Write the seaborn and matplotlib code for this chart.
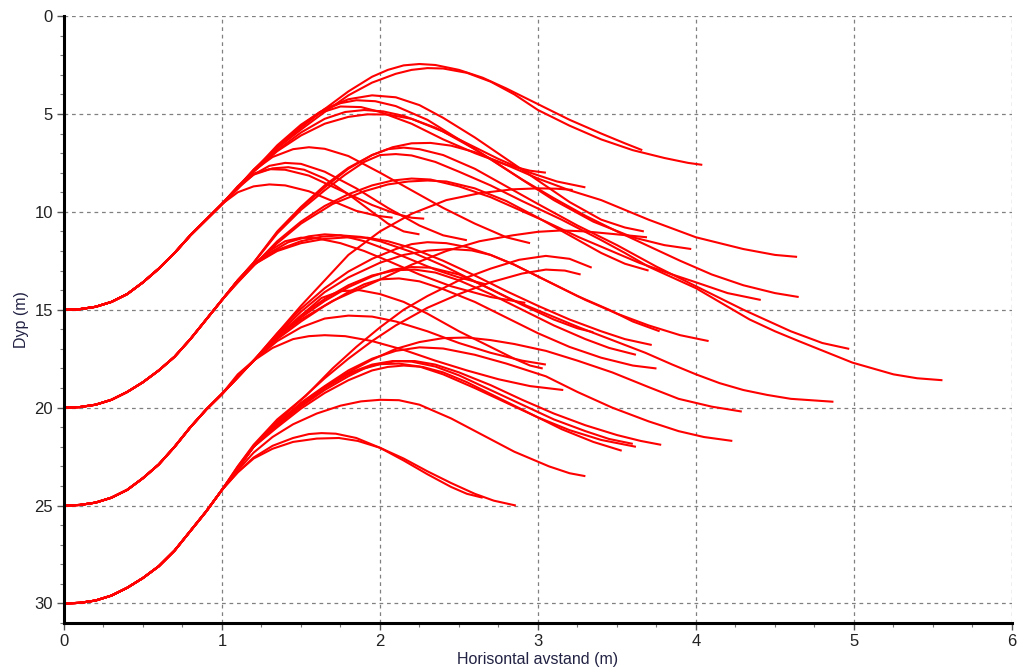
import pandas as pd
import seaborn as sns
import matplotlib
matplotlib.use('Agg')
import matplotlib.pyplot as plt
from matplotlib.ticker import MultipleLocator

# utslippsdyp (m) for hver kurvefamilie
start_depths = [15, 20, 25, 30]

# felles stigning fra x=0 til x=1 for hver familie (avlest)
rise_x = [0, 0.1, 0.2, 0.3, 0.4, 0.5, 0.6, 0.7, 0.8, 0.9, 1.0]
rise15 = [15, 14.97, 14.85, 14.6, 14.2, 13.6, 12.9, 12.1, 11.2, 10.4, 9.6]
rise20 = [20, 19.97, 19.85, 19.6, 19.2, 18.7, 18.1, 17.4, 16.5, 15.5, 14.5]
rise25 = [25, 24.97, 24.85, 24.6, 24.2, 23.6, 22.9, 22.0, 21.0, 20.1, 19.3]
rise30 = [30, 29.97, 29.85, 29.6, 29.2, 28.7, 28.1, 27.3, 26.3, 25.3, 24.2]

# videre forløp for hver kurve (x, dyp)
branches15 = [
    [(1.1, 8.75), (1.2, 7.85), (1.35, 6.7), (1.5, 5.7), (1.65, 4.75), (1.8, 3.85), (1.95, 3.1), (2.05, 2.75), (2.15, 2.52), (2.25, 2.45), (2.35, 2.5), (2.5, 2.75), (2.65, 3.15), (2.8, 3.7), (3.0, 4.5), (3.2, 5.3), (3.4, 6.0), (3.55, 6.5), (3.66, 6.85)],
    [(1.1, 8.75), (1.2, 7.85), (1.35, 6.75), (1.5, 5.8), (1.65, 4.9), (1.8, 4.05), (1.95, 3.4), (2.1, 2.95), (2.2, 2.75), (2.3, 2.66), (2.4, 2.68), (2.55, 2.9), (2.7, 3.35), (2.85, 4.0), (3.0, 4.8), (3.2, 5.6), (3.4, 6.3), (3.6, 6.85), (3.8, 7.25), (3.95, 7.5), (4.04, 7.6)],
    [(1.1, 8.8), (1.2, 7.9), (1.35, 6.6), (1.5, 5.55), (1.65, 4.75), (1.8, 4.25), (1.95, 4.05), (2.1, 4.15), (2.25, 4.55), (2.4, 5.2), (2.6, 6.2), (2.8, 7.3), (3.0, 8.4), (3.2, 9.5), (3.4, 10.4), (3.55, 10.8), (3.67, 11.0)],
    [(1.1, 8.8), (1.2, 7.9), (1.35, 6.7), (1.5, 5.6), (1.62, 4.9), (1.75, 4.45), (1.85, 4.3), (1.97, 4.35), (2.1, 4.6), (2.3, 5.3), (2.5, 6.3), (2.7, 7.3), (2.9, 8.35), (3.1, 9.3), (3.3, 10.2), (3.5, 11.0), (3.7, 11.75), (3.9, 12.5), (4.1, 13.2), (4.3, 13.75), (4.5, 14.15), (4.65, 14.35)],
    [(1.1, 8.8), (1.2, 7.9), (1.35, 6.7), (1.5, 5.6), (1.62, 4.95), (1.75, 4.62), (1.88, 4.65), (2.0, 4.9), (2.2, 5.5), (2.4, 6.3), (2.6, 7.0), (2.8, 7.6), (2.95, 7.9), (3.05, 8.0)],
    [(1.1, 8.8), (1.2, 7.95), (1.35, 6.85), (1.5, 5.95), (1.65, 5.25), (1.78, 4.9), (1.9, 4.8), (2.02, 4.87), (2.15, 5.1), (2.35, 5.7), (2.55, 6.5), (2.75, 7.3), (2.95, 8.0), (3.12, 8.45), (3.3, 8.75)],
    [(1.1, 8.8), (1.2, 7.95), (1.35, 6.9), (1.5, 6.1), (1.65, 5.5), (1.8, 5.15), (1.92, 5.02), (2.05, 5.03), (2.2, 5.25), (2.4, 5.9), (2.6, 6.8), (2.85, 8.1), (3.1, 9.4), (3.35, 10.5), (3.6, 11.3), (3.8, 11.7), (3.97, 11.9)],
    [(1.1, 8.7), (1.2, 7.9), (1.32, 7.2), (1.45, 6.8), (1.55, 6.7), (1.65, 6.78), (1.8, 7.15), (2.0, 8.0), (2.2, 8.9), (2.4, 9.8), (2.6, 10.6), (2.8, 11.3), (2.95, 11.6)],
    [(1.1, 8.8), (1.2, 8.1), (1.3, 7.65), (1.4, 7.5), (1.5, 7.55), (1.65, 7.95), (1.85, 8.8), (2.05, 9.8), (2.25, 10.7), (2.4, 11.2), (2.55, 11.45)],
    [(1.1, 8.7), (1.2, 8.05), (1.3, 7.82), (1.4, 7.85), (1.55, 8.15), (1.75, 8.9), (1.95, 9.65), (2.1, 10.1), (2.2, 10.3), (2.28, 10.35)],
    [(1.1, 9.0), (1.2, 8.7), (1.3, 8.6), (1.4, 8.65), (1.55, 8.95), (1.7, 9.45), (1.85, 9.95), (1.98, 10.2), (2.08, 10.3)],
    [(1.1, 8.75), (1.2, 8.1), (1.32, 7.78), (1.42, 7.72), (1.52, 7.85), (1.65, 8.3), (1.8, 9.1), (1.95, 10.0), (2.05, 10.6), (2.15, 11.0), (2.25, 11.15)],
]

branches20 = [
    [(1.1, 13.5), (1.2, 12.6), (1.35, 11.0), (1.5, 9.75), (1.65, 8.65), (1.8, 7.75), (1.95, 7.1), (2.08, 6.7), (2.2, 6.5), (2.32, 6.48), (2.45, 6.62), (2.6, 6.95), (2.8, 7.6), (3.0, 8.3), (3.2, 8.9), (3.4, 9.4), (3.7, 10.4), (4.0, 11.3), (4.3, 11.9), (4.5, 12.2), (4.64, 12.3)],
    [(1.1, 13.5), (1.2, 12.6), (1.35, 11.05), (1.5, 9.8), (1.65, 8.75), (1.8, 7.8), (1.95, 7.1), (2.05, 6.8), (2.15, 6.72), (2.25, 6.8), (2.4, 7.1), (2.6, 7.8), (2.8, 8.7), (3.0, 9.6), (3.25, 10.7), (3.5, 11.7), (3.75, 12.8), (4.0, 13.8), (4.3, 15.0), (4.6, 16.1), (4.8, 16.7), (4.97, 17.0)],
    [(1.1, 13.5), (1.2, 12.6), (1.35, 11.1), (1.5, 9.9), (1.65, 8.9), (1.78, 8.1), (1.9, 7.45), (2.0, 7.1), (2.1, 7.05), (2.2, 7.12), (2.35, 7.45), (2.5, 7.95), (2.7, 8.65), (2.9, 9.45), (3.15, 10.4), (3.39, 11.4), (3.55, 12.1), (3.7, 12.8), (3.85, 13.35), (4.0, 13.9), (4.17, 14.7), (4.34, 15.5), (4.5, 16.1), (4.65, 16.6), (4.82, 17.15), (4.99, 17.7), (5.12, 18.0), (5.25, 18.3), (5.4, 18.5), (5.56, 18.6)],
    [(1.1, 13.6), (1.2, 12.75), (1.35, 11.5), (1.5, 10.5), (1.65, 9.7), (1.8, 9.1), (1.95, 8.65), (2.08, 8.4), (2.2, 8.3), (2.32, 8.35), (2.5, 8.7), (2.7, 9.25), (2.84, 9.75), (3.05, 10.5), (3.26, 11.3), (3.45, 11.95), (3.64, 12.6), (3.85, 13.2), (4.0, 13.6), (4.2, 14.15), (4.41, 14.5)],
    [(1.1, 13.6), (1.2, 12.75), (1.35, 11.6), (1.5, 10.6), (1.7, 9.6), (1.9, 8.95), (2.05, 8.6), (2.18, 8.45), (2.3, 8.4), (2.42, 8.45), (2.6, 8.8), (2.8, 9.45), (3.0, 10.3), (3.2, 11.2), (3.4, 12.1), (3.55, 12.65), (3.7, 13.0)],
    [(1.1, 13.5), (1.2, 12.7), (1.3, 12.1), (1.42, 11.55), (1.55, 11.25), (1.65, 11.15), (1.75, 11.2), (1.9, 11.5), (2.05, 11.95), (2.2, 12.45), (2.35, 12.95), (2.5, 13.35), (2.67, 13.7)],
    [(1.1, 13.5), (1.2, 12.7), (1.3, 12.0), (1.4, 11.5), (1.5, 11.32), (1.6, 11.35), (1.75, 11.6), (1.9, 12.0), (2.05, 12.5), (2.25, 13.2), (2.45, 13.8), (2.7, 14.35), (2.92, 14.65)],
    [(1.1, 13.5), (1.2, 12.7), (1.35, 12.0), (1.5, 11.6), (1.65, 11.38), (1.8, 11.3), (1.92, 11.32), (2.05, 11.5), (2.2, 11.85), (2.4, 12.5), (2.6, 13.25), (2.8, 14.05), (3.0, 14.8), (3.2, 15.5), (3.4, 16.1), (3.55, 16.5), (3.72, 16.8)],
    [(1.1, 13.5), (1.2, 12.7), (1.35, 11.95), (1.5, 11.5), (1.63, 11.27), (1.75, 11.2), (1.88, 11.28), (2.0, 11.5), (2.2, 12.05), (2.4, 12.75), (2.65, 13.75), (2.9, 14.75), (3.1, 15.5), (3.25, 15.95), (3.35, 16.15)],
]

branches25 = [
    [(1.1, 18.45), (1.2, 17.6), (1.35, 16.2), (1.5, 14.8), (1.65, 13.5), (1.8, 12.2), (2.0, 11.0), (2.2, 10.1), (2.42, 9.4), (2.63, 9.05), (2.84, 8.85), (3.0, 8.8), (3.12, 8.82), (3.22, 8.88)],
    [(1.1, 18.45), (1.2, 17.6), (1.35, 16.4), (1.5, 15.5), (1.7, 14.55), (1.99, 13.5), (2.2, 12.7), (2.42, 12.0), (2.63, 11.5), (2.84, 11.2), (3.0, 11.02), (3.15, 10.95), (3.3, 11.0), (3.5, 11.15), (3.69, 11.3)],
    [(1.1, 18.45), (1.2, 17.6), (1.35, 16.4), (1.5, 15.4), (1.65, 14.55), (1.8, 13.85), (1.95, 13.3), (2.08, 12.95), (2.2, 12.82), (2.32, 12.85), (2.5, 13.2), (2.65, 13.75), (2.84, 14.5), (3.05, 15.2), (3.26, 15.9), (3.47, 16.55), (3.68, 17.2), (3.85, 17.8), (4.0, 18.3), (4.15, 18.75), (4.3, 19.1), (4.45, 19.35), (4.6, 19.55), (4.87, 19.7)],
    [(1.1, 18.45), (1.2, 17.6), (1.35, 16.2), (1.5, 14.95), (1.65, 13.9), (1.8, 13.05), (1.95, 12.4), (2.1, 11.9), (2.2, 11.65), (2.3, 11.55), (2.42, 11.6), (2.55, 11.8), (2.7, 12.2), (2.85, 12.7), (3.05, 13.5), (3.25, 14.3), (3.45, 15.0), (3.6, 15.6), (3.77, 16.1)],
    [(1.1, 18.45), (1.2, 17.6), (1.35, 16.3), (1.5, 15.1), (1.65, 14.1), (1.8, 13.35), (2.0, 12.6), (2.15, 12.2), (2.3, 11.98), (2.45, 11.9), (2.58, 11.97), (2.7, 12.2), (2.85, 12.7), (3.0, 13.3), (3.15, 13.9), (3.3, 14.5), (3.5, 15.2), (3.7, 15.8), (3.9, 16.3), (4.08, 16.6)],
    [(1.1, 18.45), (1.2, 17.6), (1.35, 16.5), (1.5, 15.6), (1.65, 14.8), (1.8, 14.1), (1.9, 13.7), (2.0, 13.45), (2.12, 13.4), (2.25, 13.55), (2.4, 13.95), (2.6, 14.6), (2.8, 15.4), (3.0, 16.2), (3.2, 16.9), (3.4, 17.45), (3.6, 17.85), (3.75, 18.0)],
    [(1.1, 18.4), (1.2, 17.6), (1.35, 16.4), (1.5, 15.3), (1.63, 14.4), (1.75, 14.05), (1.87, 14.0), (2.0, 14.2), (2.15, 14.6), (2.3, 15.2), (2.5, 16.1), (2.7, 16.9), (2.85, 17.5), (2.95, 17.85), (3.03, 18.0)],
    [(1.1, 18.4), (1.2, 17.6), (1.35, 16.6), (1.5, 15.9), (1.65, 15.45), (1.8, 15.3), (1.95, 15.35), (2.1, 15.6), (2.3, 16.1), (2.5, 16.7), (2.7, 17.2), (2.9, 17.6), (3.05, 17.8)],
    [(1.1, 18.3), (1.2, 17.6), (1.32, 16.95), (1.45, 16.5), (1.55, 16.35), (1.65, 16.3), (1.78, 16.35), (1.95, 16.6), (2.15, 17.05), (2.35, 17.6), (2.55, 18.1), (2.75, 18.55), (2.95, 18.9), (3.16, 19.1)],
    [(1.1, 18.45), (1.2, 17.6), (1.35, 16.35), (1.5, 15.3), (1.65, 14.45), (1.8, 13.75), (1.95, 13.25), (2.1, 12.98), (2.22, 12.95), (2.35, 13.1), (2.5, 13.5), (2.7, 14.2), (2.9, 15.0), (3.1, 15.8), (3.3, 16.5), (3.45, 16.95), (3.62, 17.3)],
]

branches30 = [
    [(1.1, 23.1), (1.2, 22.0), (1.35, 20.8), (1.5, 19.8), (1.65, 18.95), (1.8, 18.2), (1.95, 17.55), (2.1, 17.0), (2.25, 16.65), (2.4, 16.45), (2.55, 16.42), (2.7, 16.55), (2.85, 16.75), (3.05, 17.1), (3.25, 17.6), (3.47, 18.2), (3.7, 18.95), (3.89, 19.55), (4.1, 19.95), (4.29, 20.2)],
    [(1.1, 23.1), (1.2, 22.0), (1.35, 20.8), (1.5, 19.75), (1.65, 18.9), (1.8, 18.1), (1.95, 17.5), (2.1, 17.1), (2.25, 16.92), (2.4, 16.98), (2.6, 17.3), (2.8, 17.75), (3.05, 18.4), (3.25, 19.2), (3.47, 20.0), (3.7, 20.7), (3.89, 21.2), (4.05, 21.5), (4.23, 21.7)],
    [(1.1, 23.1), (1.2, 22.0), (1.35, 20.9), (1.5, 19.9), (1.65, 19.0), (1.8, 18.3), (1.95, 17.85), (2.1, 17.62), (2.22, 17.62), (2.35, 17.8), (2.5, 18.2), (2.7, 18.85), (2.9, 19.6), (3.1, 20.3), (3.3, 20.9), (3.5, 21.4), (3.65, 21.7), (3.78, 21.9)],
    [(1.1, 23.1), (1.2, 22.0), (1.35, 20.9), (1.5, 19.95), (1.65, 19.1), (1.8, 18.4), (1.9, 18.0), (2.0, 17.78), (2.12, 17.75), (2.25, 17.9), (2.4, 18.3), (2.6, 19.0), (2.8, 19.75), (3.0, 20.5), (3.2, 21.15), (3.4, 21.65), (3.62, 22.0)],
    [(1.1, 23.1), (1.2, 22.0), (1.35, 21.0), (1.5, 20.05), (1.65, 19.25), (1.8, 18.6), (1.95, 18.1), (2.05, 17.92), (2.15, 17.85), (2.27, 17.92), (2.4, 18.2), (2.55, 18.7), (2.75, 19.5), (2.95, 20.3), (3.15, 21.1), (3.35, 21.75), (3.53, 22.2)],
    [(1.1, 23.1), (1.2, 22.0), (1.35, 20.85), (1.5, 19.85), (1.65, 18.95), (1.8, 18.25), (1.95, 17.8), (2.08, 17.62), (2.2, 17.65), (2.35, 17.9), (2.5, 18.35), (2.7, 19.1), (2.9, 19.85), (3.1, 20.6), (3.3, 21.2), (3.45, 21.6), (3.6, 21.85)],
    [(1.1, 23.2), (1.2, 22.3), (1.32, 21.5), (1.45, 20.85), (1.6, 20.3), (1.75, 19.9), (1.88, 19.68), (2.0, 19.6), (2.12, 19.62), (2.25, 19.85), (2.45, 20.55), (2.65, 21.4), (2.85, 22.25), (3.07, 23.0), (3.2, 23.35), (3.3, 23.5)],
    [(1.1, 23.3), (1.2, 22.55), (1.32, 21.95), (1.45, 21.55), (1.55, 21.35), (1.63, 21.3), (1.72, 21.33), (1.85, 21.55), (2.0, 22.05), (2.15, 22.7), (2.3, 23.4), (2.45, 24.05), (2.55, 24.4), (2.65, 24.6)],
    [(1.1, 23.3), (1.2, 22.6), (1.32, 22.1), (1.45, 21.75), (1.6, 21.58), (1.74, 21.55), (1.86, 21.7), (2.0, 22.05), (2.15, 22.6), (2.3, 23.25), (2.45, 23.85), (2.6, 24.4), (2.72, 24.75), (2.86, 25.0)],
    [(1.1, 23.0), (1.2, 21.9), (1.35, 20.6), (1.53, 19.4), (1.7, 18.0), (1.85, 16.9), (2.0, 15.9), (2.15, 15.0), (2.3, 14.3), (2.5, 13.5), (2.7, 12.9), (2.88, 12.45), (3.05, 12.25), (3.2, 12.4), (3.34, 12.85)],
    [(1.1, 23.0), (1.2, 21.95), (1.35, 20.7), (1.5, 19.6), (1.65, 18.5), (1.8, 17.5), (1.95, 16.6), (2.1, 15.8), (2.3, 14.9), (2.5, 14.2), (2.7, 13.6), (2.9, 13.15), (3.05, 12.95), (3.17, 13.0), (3.27, 13.2)],
]

rises = [rise15, rise20, rise25, rise30]
branches = [branches15, branches20, branches25, branches30]

rows = []
for d0, rise, fam in zip(start_depths, rises, branches):
    for i, br in enumerate(fam):
        pts = list(zip(rise_x, rise)) + br
        for k, (x, d) in enumerate(pts):
            rows.append((f'{d0}-{i}', k, x, d))
df = pd.DataFrame(rows, columns=['kurve', 'k', 'x', 'dyp'])

sns.set_theme(style='white')
plt.rcParams['font.family'] = ['Liberation Sans', 'DejaVu Sans']

fig = plt.figure(figsize=(10.22, 6.71), dpi=100)
ax = fig.add_axes([0.0626, 0.0715, 0.9276, 0.9046])

sns.lineplot(data=df, x='x', y='dyp', units='kurve', estimator=None, sort=False,
             color='#ff0000', lw=1.5, ax=ax, legend=False)
for ln in ax.lines:
    ln.set_solid_joinstyle('round')
    ln.set_solid_capstyle('butt')

ax.set_xlim(0, 6)
ax.set_ylim(31, 0)
ax.xaxis.set_major_locator(MultipleLocator(1))
ax.xaxis.set_minor_locator(MultipleLocator(0.25))
ax.yaxis.set_major_locator(MultipleLocator(5))
ax.yaxis.set_minor_locator(MultipleLocator(1))
ax.grid(True, which='major', ls=(0, (3, 3)), color='#808080', lw=0.9)
ax.set_axisbelow(True)

for s in ['top', 'right']:
    ax.spines[s].set_visible(False)
for s in ['left', 'bottom']:
    ax.spines[s].set_color('black')
    ax.spines[s].set_linewidth(2.2)

ax.tick_params(axis='both', which='major', direction='out', length=5, width=1,
               color='#555555', labelsize=12, labelcolor='#222222', pad=3,
               bottom=True, left=True)
ax.tick_params(axis='both', which='minor', direction='out', length=3, width=0.8,
               color='#777777', bottom=True, left=True)

ax.set_xlabel('Horisontal avstand (m)', fontsize=11.5, color='#222244', labelpad=2)
ax.set_ylabel('Dyp (m)', fontsize=11.5, color='#222244', labelpad=4)

fig.savefig('out.png', dpi=100, facecolor='white')
